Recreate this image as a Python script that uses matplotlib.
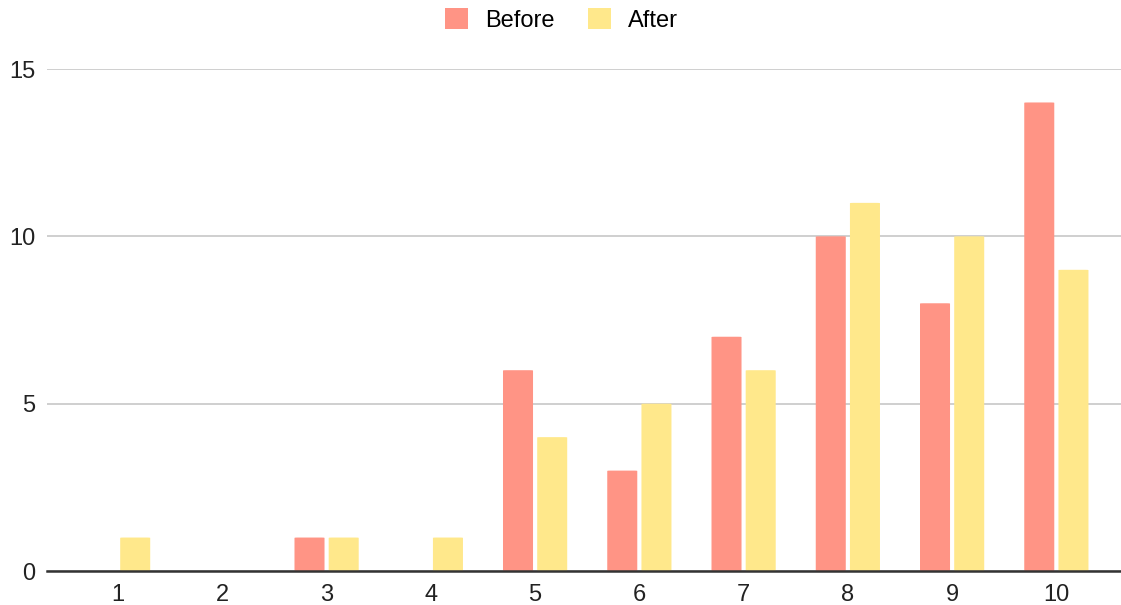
import numpy as np
import matplotlib.pyplot as plt
from matplotlib.patches import FancyBboxPatch

plt.rcParams['font.family'] = ['Liberation Sans', 'DejaVu Sans']

categories = ['1', '2', '3', '4', '5', '6', '7', '8', '9', '10']
before = [0, 0, 1, 0, 6, 3, 7, 10, 8, 14]
after = [1, 0, 1, 1, 4, 5, 6, 11, 10, 9]

before_color = '#ff9485'
after_color = '#ffe88b'

fig = plt.figure(figsize=(11.21, 6.05), dpi=100)
ax = fig.add_axes([47 / 1121, 34 / 605, 1 - 47 / 1121, (571 - 69) / 605])

x = np.arange(1, len(categories) + 1)
w = 0.288
gap = 0.04

bars_b = ax.bar(x - w / 2 - gap / 2, before, w, color=before_color, label='Before', zorder=3)
bars_a = ax.bar(x + w / 2 + gap / 2, after, w, color=after_color, label='After', zorder=3)

# swap the square bars for ones with slightly rounded tops
for bars in (bars_b, bars_a):
    for b in bars:
        b.set_visible(False)
        if b.get_height() <= 0:
            continue
        r = FancyBboxPatch((b.get_x(), b.get_y()), b.get_width(), b.get_height(),
                           boxstyle='round,pad=0,rounding_size=0.03',
                           mutation_aspect=1 / 3.2,
                           facecolor=b.get_facecolor(), edgecolor='none', zorder=3)
        ax.add_patch(r)

ax.set_xlim(0.318, 10.62)
ax.set_ylim(0, 15)
ax.set_yticks([0, 5, 10, 15])
ax.set_xticks(x)
ax.set_xticklabels(categories)
ax.yaxis.grid(True, color='#cccccc', linewidth=1.3, zorder=0)
ax.set_axisbelow(True)
for s in ['top', 'right', 'left']:
    ax.spines[s].set_visible(False)
ax.spines['bottom'].set_color('#333333')
ax.spines['bottom'].set_linewidth(1.8)
ax.spines['bottom'].set_zorder(4)
ax.tick_params(axis='both', length=0, labelsize=17, colors='#222222')
ax.tick_params(axis='y', pad=8.5)
ax.tick_params(axis='x', pad=9.5)

leg = ax.legend(handles=[bars_b, bars_a], labels=['Before', 'After'],
                loc='center', bbox_to_anchor=(0.5 - 47 / 1121 / 2, 1 + 49 / 502),
                ncol=2, frameon=False, fontsize=17, handlelength=1.0, handleheight=1.0,
                handletextpad=0.72, columnspacing=1.4, borderpad=0)
for h, c in zip(leg.legend_handles, [before_color, after_color]):
    h.set_visible(True)
    h.set_facecolor(c)

fig.savefig('out.png', dpi=100)
